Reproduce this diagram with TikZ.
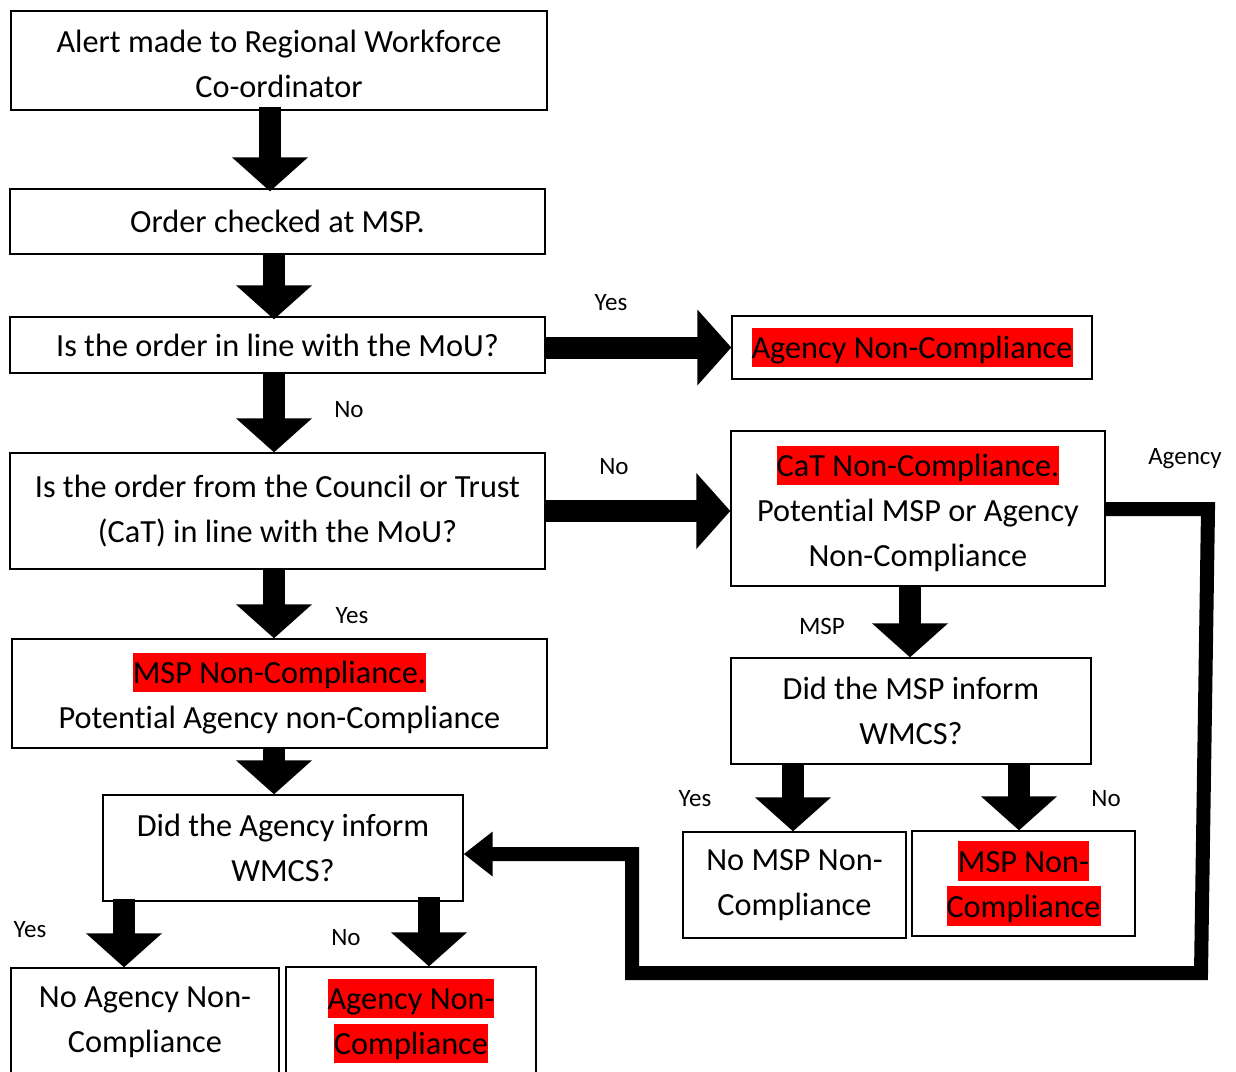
\documentclass[tikz,border=0pt]{standalone}
\usepackage{fontspec}
\setmainfont{Carlito}[Ligatures={NoCommon}]
\usetikzlibrary{arrows.meta}
\newcommand{\hlred}[1]{{\setlength{\fboxsep}{0pt}\colorbox{red}{\rule[-0.269em]{0pt}{1.221em}#1}}}
\begin{document}
\begin{tikzpicture}[x=1pt,y=-1pt,
  box/.style={draw, line width=1.3pt, align=center, inner sep=0pt, font=\fontsize{32.3}{45}\selectfont},
  blk/.style={line width=22pt, -{Triangle[width=74pt,length=34pt]}},
  conn/.style={line width=14pt, line join=miter, -{Triangle[width=43pt,length=29pt]}},
  lbl/.style={font=\fontsize{25}{30}\selectfont, inner sep=0pt}]
\useasboundingbox (0,0) rectangle (1236,1071);
\clip (0,0) rectangle (1236,1071);
\node[box, minimum width=536pt, minimum height=99pt] (b1) at (279,60.5) {\rule{0pt}{30pt}Alert made to Regional Workforce\\Co-ordinator};
\node[box, minimum width=535pt, minimum height=65pt] (b2) at (277.5,221.5) {Order checked at MSP.};
\node[box, minimum width=535pt, minimum height=56pt] (b3) at (277.5,345) {Is the order in line with the MoU?};
\node[box, minimum width=360pt, minimum height=63pt] (b4) at (912,347.5) {\hlred{Agency Non-Compliance}};
\node[box, minimum width=535pt, minimum height=116pt] (b5) at (277.5,511) {Is the order from the Council or Trust\\(CaT) in line with the MoU?};
\node[box, minimum width=374pt, minimum height=155pt] (b6) at (918,508.5) {\hlred{CaT Non-Compliance.}\\Potential MSP or Agency\\Non-Compliance};
\node[box, minimum width=535pt, minimum height=109pt] (b7) at (279.5,693.5) {\hlred{MSP Non-Compliance.}\\Potential Agency non-Compliance};
\node[box, minimum width=360pt, minimum height=106pt] (b8) at (911,711) {Did the MSP inform\\WMCS?};
\node[box, minimum width=360pt, minimum height=106pt] (b9) at (283,848) {Did the Agency inform\\WMCS?};
\node[box, minimum width=223pt, minimum height=106pt] (b10) at (794.5,885) {No MSP Non-\\Compliance};
\node[box, minimum width=223pt, minimum height=105pt] (b11) at (1023.5,883.5) {\hlred{MSP Non-}\\\hlred{Compliance}};
\node[box, minimum width=268pt, minimum height=108pt] (b12) at (145,1022) {No Agency Non-\\Compliance};
\node[box, minimum width=250pt, minimum height=108pt] (b13) at (411,1021) {\hlred{Agency Non-}\\\hlred{Compliance}};
% arrow positions
\coordinate (x1) at (270,0);
\coordinate (x2) at (274,0);
\coordinate (x8) at (910,0);
\coordinate (x9) at (793,0);
\coordinate (x10) at (1019,0);
\coordinate (x11) at (124,0);
\coordinate (x12) at (429,0);
\draw[blk] ([yshift=4pt]x1 |- b1.south) -- ([yshift=-3pt]x1 |- b2.north);
\draw[blk] (x2 |- b2.south) -- ([yshift=-3pt]x2 |- b3.north);
\draw[blk] (x2 |- b3.south) -- (x2 |- b5.north);
\draw[blk] (x2 |- b5.south) -- (x2 |- b7.north);
\draw[blk] (x2 |- b7.south) -- (x2 |- b9.north);
\draw[blk] ([yshift=-2.5pt]b3.east) -- ([yshift=-2.5pt]b3.east -| b4.west);
\draw[blk] (b5.east) -- (b5.east -| b6.west);
\draw[blk] (x8 |- b6.south) -- (x8 |- b8.north);
\draw[blk] (x9 |- b8.south) -- (x9 |- b10.north);
\draw[blk] (x10 |- b8.south) -- (x10 |- b11.north);
\draw[blk] ([yshift=3pt]x11 |- b9.south) -- (x11 |- b12.north);
\draw[blk] ([yshift=5pt]x12 |- b9.south) -- (x12 |- b13.north);
% feedback connector
\coordinate (c1) at (1208,509);
\coordinate (c2) at (1201,973);
\coordinate (c3) at (632,973);
\coordinate (c4) at (632,854);
\draw[conn] (b6.east |- c1) -- (c1) -- (c2) -- (c3) -- (c4) -- (c4 -| b9.east);
% labels
\node[lbl] (l1) at (611,303) {Yes};
\node[lbl] (l2) at (349,410) {No};
\node[lbl] (l3) at (614,467) {No};
\node[lbl] (l4) at (1185,459) {Agency};
\node[lbl] (l5) at (352,616) {Yes};
\node[lbl] (l6) at (822,626) {MSP};
\node[lbl] (l7) at (695,799) {Yes};
\node[lbl] (l8) at (1106,799) {No};
\node[lbl] (l9) at (30,930) {Yes};
\node[lbl] (l10) at (346,938) {No};
\end{tikzpicture}
\end{document}
